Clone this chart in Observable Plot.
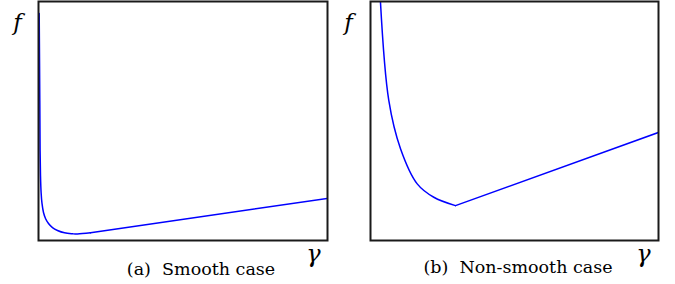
<!DOCTYPE html>
<html>
<head>
<meta charset="utf-8">
<script src="https://cdn.jsdelivr.net/npm/d3@7"></script>
<script src="https://cdn.jsdelivr.net/npm/@observablehq/plot@0.6"></script>
<style>
  html, body { margin: 0; padding: 0; background: #fff; }
  #wrap { position: relative; width: 675px; height: 284px; overflow: hidden; }
  #wrap > div { position: absolute; top: 0; }
  svg { display: block; background: #fff; }
</style>
</head>
<body>
<div id="wrap"><div id="pa" style="left:0"></div><div id="pb" style="left:337px"></div></div>
<script>
// Panel (a) smooth case: gamma vs f (arbitrary units)
const smoothGamma = [0.024, 0.045, 0.055, 0.069, 0.090, 0.121, 0.173, 0.242, 0.346, 0.484, 0.657, 0.90, 1.18, 1.35, 1.80, 1.80, 10.0];
const smoothF     = [9.50, 5.86, 3.77, 2.72, 2.01, 1.55, 1.17, 0.92, 0.71, 0.54, 0.42, 0.32, 0.28, 0.27, 0.32, 0.32, 1.76];
const smoothSeg   = ["c","c","c","c","c","c","c","c","c","c","c","c","c","c","c","s","s"];

// Panel (b) non-smooth case: curved part, then straight part after the kink
const nonsmoothGamma = [0.33, 0.635, 1.042, 1.622, 2.198, 2.951, 2.951, 10.0];
const nonsmoothF     = [10.33, 5.86, 3.84, 2.37, 1.81, 1.46, 1.46, 4.52];
const nonsmoothSeg   = ["c","c","c","c","c","c","s","s"];

const captions = ["(a)\u00a0\u00a0Smooth case", "(b)\u00a0\u00a0Non-smooth case"];
const yLabel = "f";
const xLabel = "\u03b3";

const toRows = (xs, ys, zs) => xs.map((g, i) => ({gamma: g, f: ys[i], seg: zs[i]}));
const serif = "DejaVu Serif";

function panel(rows, caption, opts) {
  return Plot.plot({
    width: opts.width, height: 284,
    marginLeft: opts.ml, marginRight: opts.mr, marginTop: 1, marginBottom: 44,
    x: {domain: [0, 10], axis: null},
    y: {domain: [0, 10], axis: null},
    style: {background: "#fff", fontFamily: serif},
    marks: [
      Plot.line(rows, {x: "gamma", y: "f", z: "seg", curve: "catmull-rom", stroke: "#0000ff", strokeWidth: 1.5, clip: true}),
      Plot.frame({stroke: "#1a1a1a", strokeWidth: 2}),
      Plot.text([yLabel], {frameAnchor: "top-left", text: d => d, dx: opts.fdx, dy: 28, lineAnchor: "bottom", textAnchor: "middle",
        fontFamily: serif, fontStyle: "italic", fontSize: 23, fill: "#000"}),
      Plot.text([xLabel], {frameAnchor: "bottom-right", text: d => d, dx: opts.gdx, dy: 21, lineAnchor: "bottom", textAnchor: "middle",
        fontFamily: serif, fontStyle: "italic", fontSize: 24, fill: "#000"}),
      Plot.text([caption], {frameAnchor: "bottom", text: d => d, dx: opts.cdx, dy: opts.cdy, lineAnchor: "bottom", textAnchor: "middle",
        fontFamily: serif, fontSize: 17.5, fill: "#000"})
    ]
  });
}

document.getElementById("pa").appendChild(panel(toRows(smoothGamma, smoothF, smoothSeg), captions[0],
  {width: 337, ml: 38, mr: 10, fdx: -21, gdx: -14, cdx: 18, cdy: 34}));
document.getElementById("pb").appendChild(panel(toRows(nonsmoothGamma, nonsmoothF, nonsmoothSeg), captions[1],
  {width: 338, ml: 33, mr: 17, fdx: -22, gdx: -15, cdx: 3.5, cdy: 32}));
</script>
</body>
</html>
